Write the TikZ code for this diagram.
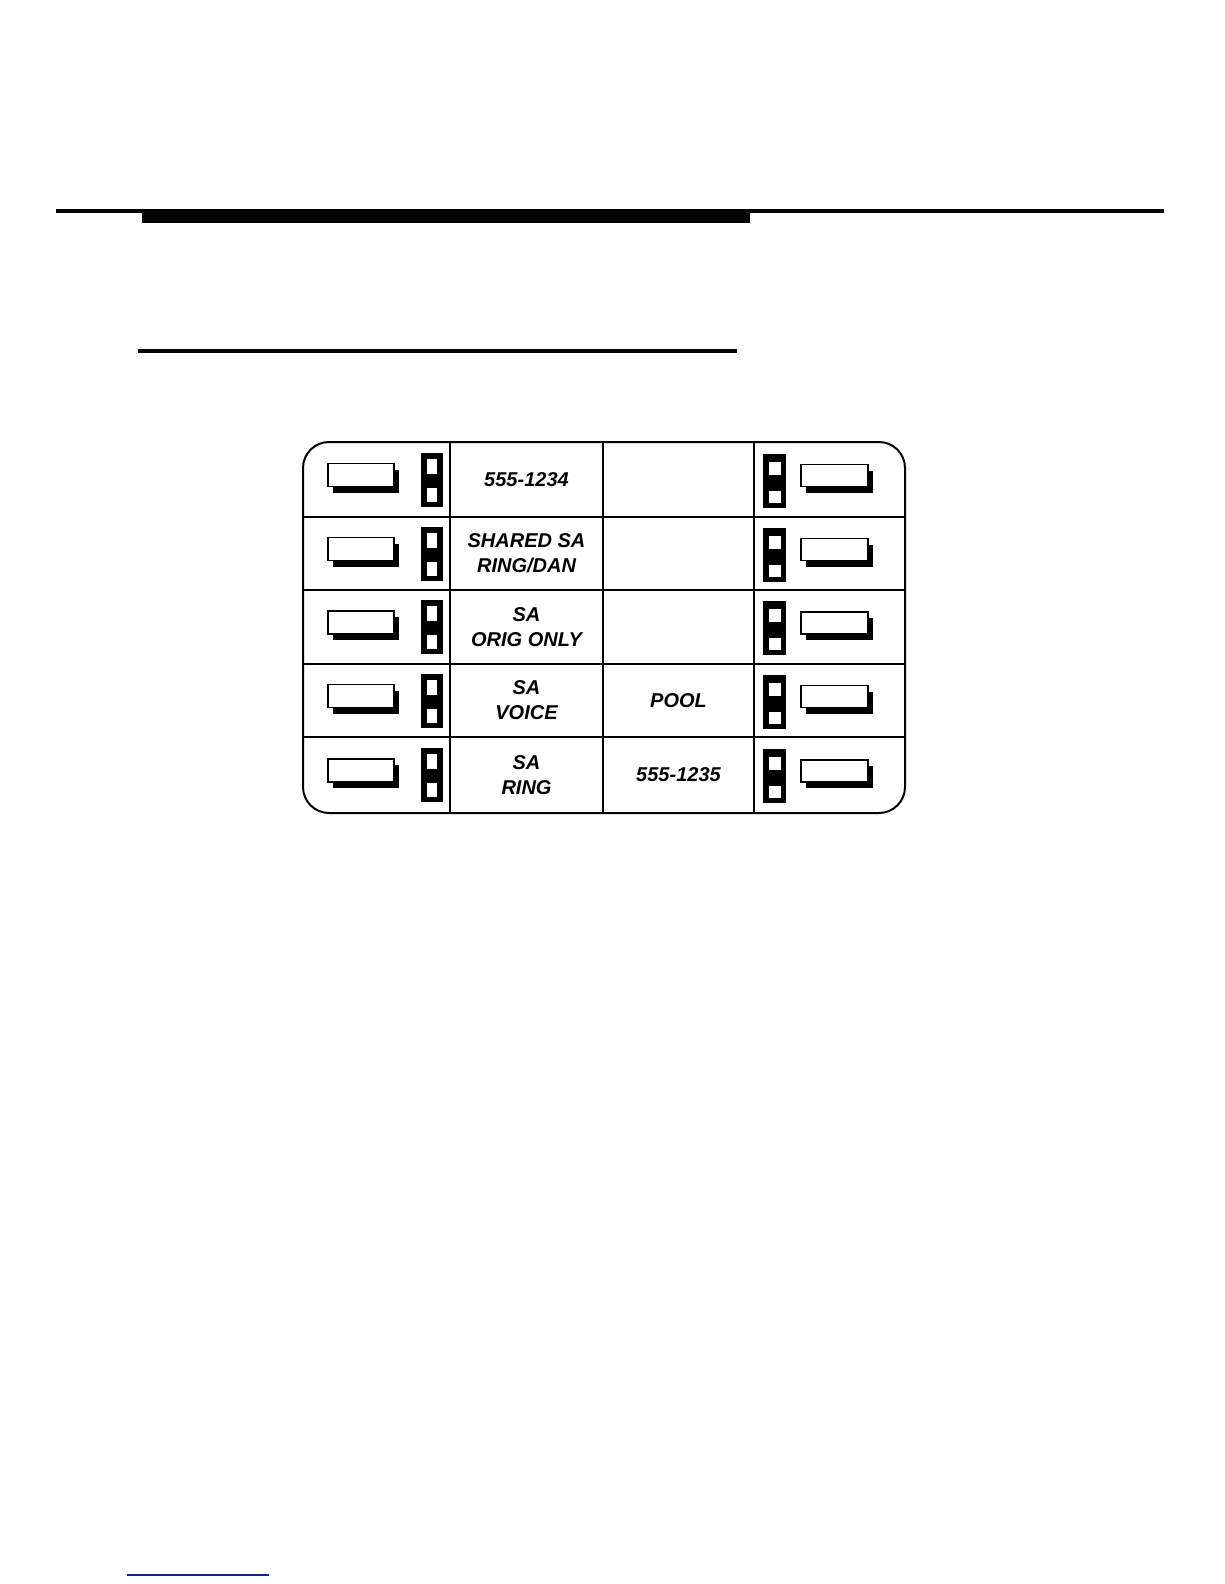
\documentclass[tikz,border=0pt]{standalone}
\usepackage{fontspec}
\newfontfamily\handfont{Liberation Sans}
\definecolor{linkblue}{RGB}{30,30,140}

\begin{document}
\begin{tikzpicture}[x=1pt,y=-1pt,
  panel/.style={line width=2pt,rounded corners=26pt},
  grid/.style={line width=1.3pt},
  btn/.style={draw=black,fill=white,line width=1.1pt},
  label/.style={align=center,inner sep=0pt,
    font=\handfont\bfseries\itshape\fontsize{20}{25}\selectfont}]
\useasboundingbox (0,0) rectangle (1224,1584);

% Header rules
\fill (56,209) rectangle (1164,213);
\fill (142,209) rectangle (750,223);
\fill (138,349) rectangle (737,353);

% Panel outline and grid
\draw[panel] (303,442) rectangle (905,813);
\foreach \x in {450,603,754}
  \draw[grid] (\x,442) -- (\x,813);
\foreach \y in {517,590,664,737}
  \draw[grid] (303,\y) -- (905,\y);

% Buttons and lamps in each row
\foreach \rt/\rb in {442/517,517/590,590/664,664/737,737/813}{
  \pgfmathsetmacro{\c}{(\rt+\rb)/2}
  % left button with shadow
  \fill (333,\c-10) rectangle (399,\c+13);
  \draw[btn] (328,\c-16) rectangle (394,\c+7);
  % left lamp
  \fill (421,\c-27) rectangle (443,\c+27);
  \fill[white] (427,\c-21) rectangle (437,\c-6);
  \fill[white] (427,\c+8) rectangle (437,\c+22);
  % right lamp
  \fill (763,\c-26) rectangle (786,\c+28);
  \fill[white] (769,\c-18) rectangle (781,\c-5);
  \fill[white] (769,\c+11) rectangle (781,\c+23);
  % right button with shadow
  \fill (806,\c-9) rectangle (873,\c+13);
  \draw[btn] (801,\c-15) rectangle (868,\c+7);
}

% Labels
\node[label] (line1) at (526.5,479.5) {555-1234};
\node[label] (shared) at (526.5,553.5) {SHARED SA\\RING/DAN};
\node[label] (orig) at (526.5,627) {SA\\ORIG ONLY};
\node[label] (voice) at (526.5,700.5) {SA\\VOICE};
\node[label] (ring) at (526.5,775) {SA\\RING};
\node[label] (pool) at (678.5,700.5) {POOL};
\node[label] (line2) at (678.5,775) {555-1235};

% Footer link rule
\draw[linkblue,line width=1.5pt] (127,1575) -- (269,1575);
\end{tikzpicture}
\end{document}
